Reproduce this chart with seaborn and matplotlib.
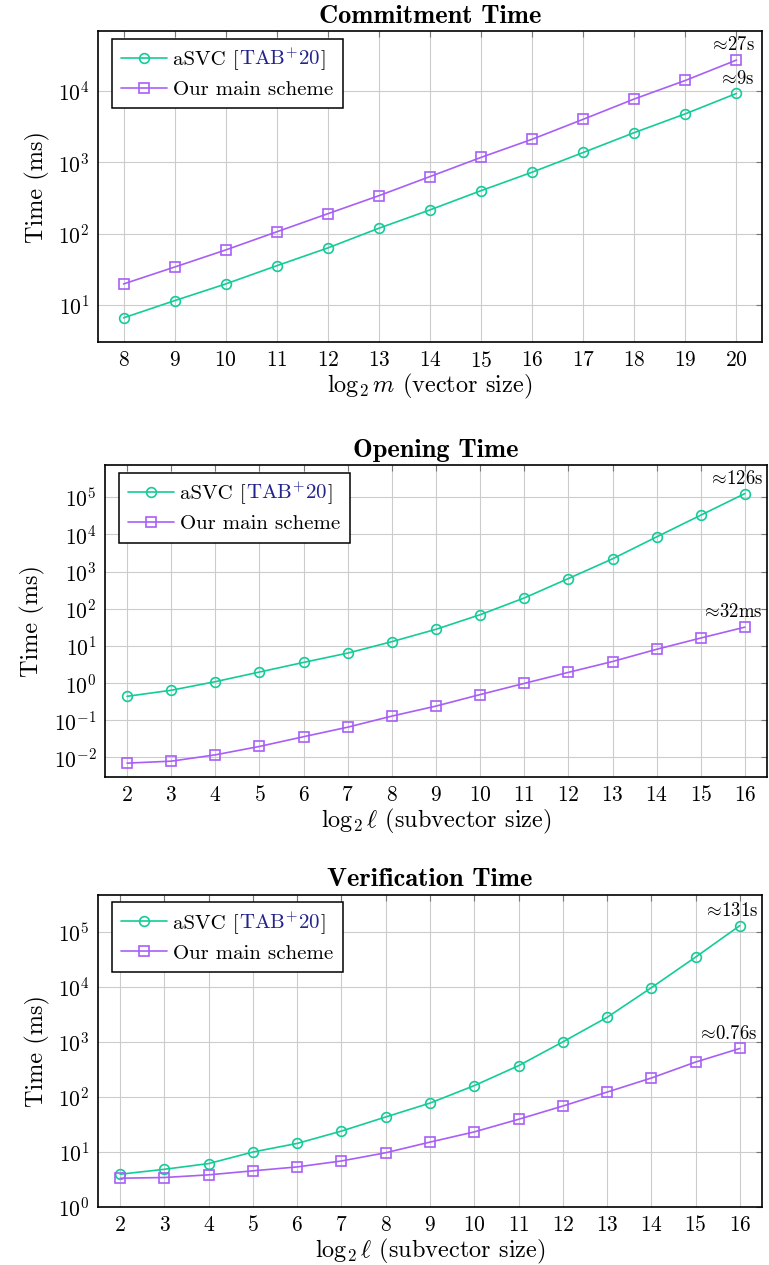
import numpy as np
import pandas as pd
import matplotlib
matplotlib.use('Agg')
import matplotlib.pyplot as plt
from matplotlib.offsetbox import HPacker, TextArea
import seaborn as sns

sns.set_theme(style='white')
plt.rcParams['font.family'] = ['cmr10', 'DejaVu Serif']
plt.rcParams['mathtext.fontset'] = 'cm'
plt.rcParams['axes.formatter.use_mathtext'] = True
plt.rcParams['axes.unicode_minus'] = True
for k in ['text.color', 'axes.labelcolor', 'xtick.labelcolor', 'ytick.labelcolor']:
    plt.rcParams[k] = 'black'

GREEN = '#14CC98'
PURPLE = '#A85FF6'
CITE = '#23238E'

# ── data (ms) ────────────────────────────────────────────────────────────────
commit_x = list(range(8, 21))
commit_asvc = [6.6, 11.5, 19.7, 35.5, 63, 119, 215, 400, 725, 1370, 2600, 4770, 9200]
commit_ours = [19.7, 34, 59, 106, 190, 340, 630, 1170, 2100, 4000, 7700, 14000, 27000]

open_x = list(range(2, 17))
open_asvc = [0.44, 0.64, 1.09, 1.98, 3.6, 6.4, 13, 28, 69, 195, 650, 2200, 8600, 33000, 126000]
open_ours = [0.0070, 0.0079, 0.0117, 0.0197, 0.036, 0.065, 0.129, 0.24, 0.49, 0.98,
             1.94, 3.8, 8.1, 16.3, 32]

verif_x = list(range(2, 17))
verif_asvc = [3.9, 4.8, 6.1, 9.9, 14.2, 23.8, 43, 77, 160, 369, 1000, 2800, 9700, 35000, 131000]
verif_ours = [3.3, 3.4, 3.8, 4.5, 5.3, 6.8, 9.6, 15, 23, 39, 68, 122, 220, 430, 760]

W, H = 769, 1265
fig = plt.figure(figsize=(W / 100, H / 100), dpi=100)


def make_ax(left, right, top, bottom):
    return fig.add_axes([left / W, 1 - bottom / H, (right - left) / W, (bottom - top) / H])


def panel(ax, x, asvc, ours, title, xlabel, ylim, yticks, notes):
    df = pd.DataFrame({'x': x * 2, 'y': asvc + ours,
                       'scheme': ['asvc'] * len(x) + ['ours'] * len(x)})
    sns.lineplot(data=df[df.scheme == 'asvc'], x='x', y='y', ax=ax, color=GREEN,
                 lw=1.2, marker='o', ms=7, mfc='none', mec=GREEN, mew=1.2,
                 label='asvc')
    sns.lineplot(data=df[df.scheme == 'ours'], x='x', y='y', ax=ax, color=PURPLE,
                 lw=1.2, marker='s', ms=7, mfc='none', mec=PURPLE, mew=1.2,
                 label='Our main scheme')
    ax.set_yscale('log')
    ax.set_xlim(x[0] - 0.5, x[-1] + 0.5)
    ax.set_ylim(*ylim)
    ax.set_xticks(x)
    ax.set_yticks(yticks)
    ax.yaxis.set_minor_locator(matplotlib.ticker.NullLocator())
    ax.grid(True, color='#cccccc', lw=0.8)
    ax.tick_params(direction='in', length=4, width=0.8, color='#777777',
                   top=True, right=True, labelsize=15.5, pad=6)
    for s in ax.spines.values():
        s.set_color('black')
        s.set_linewidth(1.2)
    ax.set_title(title, fontsize=19, family='cmb10', pad=6)
    ax.set_xlabel(xlabel, fontsize=17.5, labelpad=1)
    ax.set_ylabel('Time (ms)', fontsize=17.5, labelpad=6)

    for txt, yv in zip(notes, [asvc[-1], ours[-1]]):
        ax.annotate(txt, (x[-1], yv), xytext=(13, 7), textcoords='offset points',
                    ha='right', va='baseline', fontsize=13.5)

    leg = ax.legend(loc='upper left', bbox_to_anchor=(14 / 664, 1 - 7.5 / 311),
                    borderaxespad=0, fontsize=15, frameon=True, fancybox=False,
                    edgecolor='black', framealpha=1, handlelength=2.2,
                    handletextpad=0.3, labelspacing=0.5, borderpad=0.45)
    leg.get_frame().set_linewidth(1.1)
    # mixed colour label for the citation entry
    row0 = leg._legend_handle_box.get_children()[0].get_children()[0]
    handle = row0.get_children()[0]
    props = dict(fontsize=15, family=['cmr10', 'DejaVu Serif'])
    pieces = [TextArea('aSVC [', textprops=dict(color='black', **props)),
              TextArea('TAB$^{+}$20', textprops=dict(color=CITE, **props)),
              TextArea(']', textprops=dict(color='black', **props))]
    parts = HPacker(children=pieces, pad=0, sep=0, align='baseline')
    parts.set_figure(fig)
    for p in pieces:
        p.set_figure(fig)
        p._text.set_figure(fig)
    row0._children = [handle, parts]


ax1 = make_ax(98, 762, 31, 342.3)
panel(ax1, commit_x, commit_asvc, commit_ours, 'Commitment Time',
      r'$\log_2 m$ (vector size)', (3.0, 69000), [10, 100, 1000, 10000],
      [r'${\approx}\!$9s', r'${\approx}\!$27s'])

ax2 = make_ax(105, 767, 465.3, 776.7)
panel(ax2, open_x, open_asvc, open_ours, 'Opening Time',
      r'$\log_2 \ell$ (subvector size)', (10 ** -2.52, 10 ** 5.86),
      [10.0 ** k for k in range(-2, 6)],
      [r'${\approx}\!$126s', r'${\approx}\!$32ms'])

ax3 = make_ax(98, 762, 894.7, 1206.7)
panel(ax3, verif_x, verif_asvc, verif_ours, 'Verification Time',
      r'$\log_2 \ell$ (subvector size)', (1, 10 ** 5.68),
      [10.0 ** k for k in range(0, 6)],
      [r'${\approx}\!$131s', r'${\approx}\!$0.76s'])

fig.savefig('out.png', dpi=100)
